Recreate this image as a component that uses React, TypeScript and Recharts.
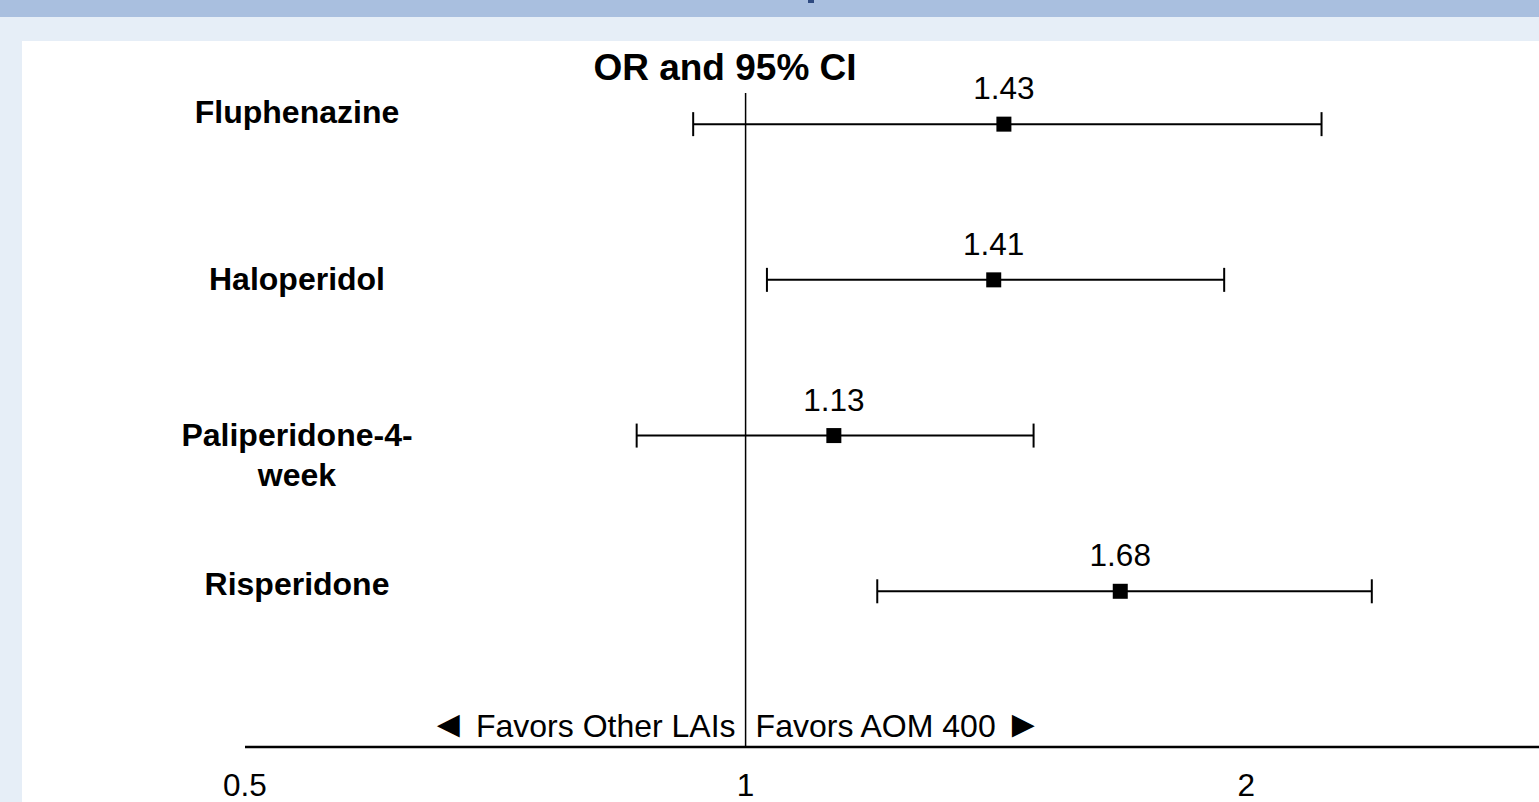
import { ScatterChart, Scatter, XAxis, YAxis, ErrorBar, ReferenceLine } from "recharts";

const drugs = ["Fluphenazine", "Haloperidol", "Paliperidone-4-\nweek", "Risperidone"];
const oddsRatios = [1.43, 1.41, 1.13, 1.68];
const ciLow = [0.93, 1.03, 0.86, 1.2];
const ciHigh = [2.22, 1.94, 1.49, 2.38];
const xTicks = [0.5, 1, 2];

const FONT = "'Liberation Sans', Arial, sans-serif";

// row 4 at top, row 1 at bottom
const rows = drugs.map((name, i) => ({
  name,
  row: drugs.length - i,
  or: oddsRatios[i],
  err: [oddsRatios[i] - ciLow[i], ciHigh[i] - oddsRatios[i]],
}));

// small per-label nudges so the names sit like the original
const labelDy = [-1, 10, 10, 4];

function DrugTick(props: any) {
  const { y, payload } = props;
  const idx = drugs.length - payload.value;
  const name = drugs[idx] ?? "";
  const lines = name.split("\n");
  return (
    <text x={297} y={y + (labelDy[idx] ?? 0)} textAnchor="middle" fontFamily={FONT} fontWeight="bold" fontSize={32} fill="#000">
      {lines.map((l, k) => (
        <tspan key={k} x={297} dy={k === 0 ? 0 : 40}>
          {l}
        </tspan>
      ))}
    </text>
  );
}

function OrTick(props: any) {
  const { x, y, payload } = props;
  return (
    <text x={x} y={y + 49} textAnchor="middle" fontFamily={FONT} fontSize={31.5} fill="#000">
      {payload.value}
    </text>
  );
}

function SquareMark(props: any) {
  const { cx, cy, payload } = props;
  return (
    <g>
      <rect x={cx - 7.5} y={cy - 7.5} width={15} height={15} fill="#000" />
      <text x={cx} y={cy - 25} textAnchor="middle" fontFamily={FONT} fontSize={31.5} fill="#000">
        {payload.or.toFixed(2)}
      </text>
    </g>
  );
}

function FavorsLabel(props: any) {
  const vb = props.viewBox || {};
  const x = vb.x ?? 0;
  const y = (vb.y ?? 0) + (vb.height ?? 0) - 10;
  return (
    <g fontFamily={FONT} fontSize={32} fill="#000">
      <text x={x - 10} y={y} textAnchor="end">
        <tspan fontSize={38}>◄</tspan> Favors Other LAIs
      </text>
      <text x={x + 10} y={y} textAnchor="start">
        Favors AOM 400 <tspan fontSize={38}>►</tspan>
      </text>
    </g>
  );
}

export default function App() {
  return (
    <div style={{ position: "absolute", left: 0, top: 0, width: 1539, height: 802, background: "#E6EEF7", overflow: "hidden" }}>
      <div style={{ position: "absolute", left: 0, top: 0, width: 1539, height: 17, background: "#A9BFDF" }} />
      <div style={{ position: "absolute", left: 808, top: 0, width: 6, height: 3, background: "#2E4A80" }} />
      <div style={{ position: "absolute", left: 22, top: 41, width: 1517, height: 761, background: "#fff" }} />
      <svg style={{ position: "absolute", left: 0, top: 0 }} width={1539} height={802}>
        <text x={725} y={80} textAnchor="middle" fontFamily={FONT} fontWeight="bold" fontSize={37} fill="#000">
          OR and 95% CI
        </text>
      </svg>
      <div style={{ position: "absolute", left: 0, top: 0 }}>
        <ScatterChart width={1539} height={802} margin={{ top: 93, right: 0, bottom: 0, left: 0 }}>
          <XAxis
            type="number"
            dataKey="or"
            scale="log"
            domain={[0.5, 3]}
            ticks={xTicks}
            allowDataOverflow
            height={55}
            tickLine={false}
            tickSize={0}
            tickMargin={0}
            axisLine={{ stroke: "#000", strokeWidth: 2.5 }}
            tick={<OrTick />}
            interval={0}
          />
          <YAxis
            type="number"
            dataKey="row"
            domain={[0, 4.2]}
            ticks={[4, 3, 2, 1]}
            width={245}
            axisLine={false}
            tickLine={false}
            tick={<DrugTick />}
            interval={0}
          />
          <ReferenceLine x={1} stroke="#000" strokeWidth={1.5} label={<FavorsLabel />} />
          <Scatter data={rows} shape={<SquareMark />} isAnimationActive={false}>
            <ErrorBar dataKey="err" direction="x" width={12} stroke="#000" strokeWidth={2} />
          </Scatter>
        </ScatterChart>
      </div>
    </div>
  );
}
